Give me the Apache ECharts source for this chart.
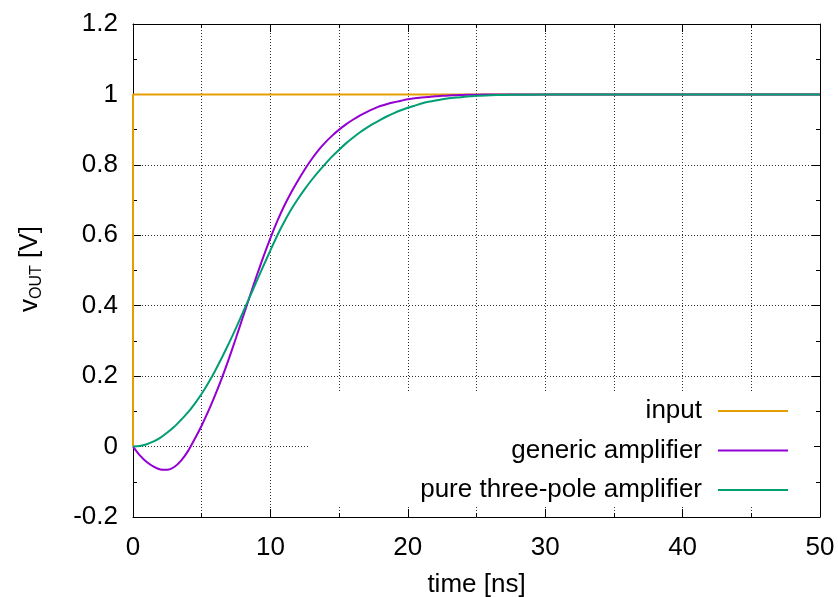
<!DOCTYPE html>
<html>
<head>
<meta charset="utf-8">
<script src="https://cdn.jsdelivr.net/npm/echarts@6/dist/echarts.min.js"></script>
<style>html,body{margin:0;padding:0;background:#fff}#c{width:838px;height:597px}</style>
</head>
<body>
<div id="c"></div>
<script>
// time samples [ns]
var tSamples = [0,0.5,1,1.5,2,2.5,3,3.5,4,4.5,5,5.5,6,6.5,7,7.5,8,8.5,9,9.5,10,10.5,11,11.5,12,12.5,13,13.5,14,14.5,15,15.5,16,16.5,17,17.5,18,18.5,19,19.5,20,20.5,21,21.5,22,22.5,23,23.5,24,24.5,25,26,27,28,30,35,40,50];
// generic amplifier output [V]
var vGeneric = [0,-0.025,-0.044,-0.057,-0.065,-0.066,-0.058,-0.040,-0.013,0.022,0.060,0.102,0.148,0.198,0.252,0.309,0.368,0.427,0.485,0.54,0.592,0.64,0.683,0.721,0.755,0.787,0.816,0.842,0.864,0.883,0.90,0.915,0.928,0.94,0.95,0.959,0.967,0.973,0.978,0.982,0.986,0.989,0.991,0.993,0.995,0.996,0.997,0.9978,0.9985,0.999,0.9993,0.9996,0.9998,1.0,1.0,1.0,1.0,1.0];
// pure three-pole amplifier output [V]
var vThreePole = [0,0.0016,0.0065,0.0145,0.0255,0.0398,0.056,0.076,0.097,0.122,0.15,0.182,0.217,0.255,0.295,0.337,0.381,0.425,0.4698,0.5138,0.5573,0.5995,0.6375,0.6723,0.703,0.731,0.757,0.781,0.803,0.824,0.843,0.861,0.877,0.892,0.905,0.917,0.928,0.938,0.947,0.955,0.962,0.968,0.974,0.979,0.983,0.986,0.989,0.991,0.993,0.9945,0.996,0.9975,0.9985,0.999,0.9995,1.0,1.0,1.0];
// input step
var tInput = [0,0,50];
var vInput = [0,1,1];
var seriesNames = ['input','generic amplifier','pure three-pole amplifier'];
var xTicks = {min:0,max:50,interval:10};
var yTicks = {min:-0.2,max:1.2,interval:0.2};

function pairs(t,v){var o=[];for(var i=0;i<t.length;i++)o.push([t[i],v[i]]);return o;}

var FONT = 'Liberation Sans';
var FS = 26;
var chart = echarts.init(document.getElementById('c'), null, {renderer:'canvas'});
var grid = {left:133,right:18,top:24,bottom:80,containLabel:false,outerBoundsMode:'none'};
var dotted = {show:true,lineStyle:{color:'#333',width:1,type:[1,2]}};
function xAxis(pos, main){
  return {type:'value',position:pos,min:xTicks.min,max:xTicks.max,interval:xTicks.interval,
    axisLine:{show:true,onZero:false,lineStyle:{color:'#000',width:1}},
    axisTick:{show:true,inside:true,length:8,lineStyle:{color:'#000'}},
    minorTick:{show:true,splitNumber:2,length:4,lineStyle:{color:'#000'}},
    axisLabel:{show:main,margin:18,color:'#000',fontFamily:FONT,fontSize:FS},
    splitLine:main?dotted:{show:false},
    minorSplitLine:main?dotted:{show:false},
    name:main?'time [ns]':'',nameLocation:'middle',nameGap:55,
    nameTextStyle:{color:'#000',fontFamily:FONT,fontSize:FS}};
}
function yAxis(pos, main){
  return {type:'value',position:pos,min:yTicks.min,max:yTicks.max,interval:yTicks.interval,
    axisLine:{show:true,onZero:false,lineStyle:{color:'#000',width:1}},
    axisTick:{show:true,inside:true,length:8,lineStyle:{color:'#000'}},
    minorTick:{show:true,splitNumber:2,length:4,lineStyle:{color:'#000'}},
    axisLabel:{show:main,margin:15,color:'#000',fontFamily:FONT,fontSize:FS,
      formatter:function(v){return String(Math.round(v*10)/10);}},
    splitLine:main?dotted:{show:false},
    minorSplitLine:{show:false}};
}
var colors = ['#e69f00','#9400d3','#009e73'];
var datas = [pairs(tInput,vInput), pairs(tSamples,vGeneric), pairs(tSamples,vThreePole)];
var series = seriesNames.map(function(n,i){
  return {name:n,type:'line',data:datas[i],xAxisIndex:0,yAxisIndex:0,
    symbol:'none',showSymbol:false,smooth:i===0?false:0.25,
    lineStyle:{color:colors[i],width:2},itemStyle:{color:colors[i]},
    z:2+i,animation:false,clip:true};
});
chart.setOption({
  animation:false,
  backgroundColor:'#fff',
  grid:grid,
  xAxis:[xAxis('bottom',true), xAxis('top',false)],
  yAxis:[yAxis('left',true), yAxis('right',false)],
  legend:{show:true,orient:'vertical',align:'right',right:24,top:391,
    icon:'rect',itemWidth:70,itemHeight:2,itemGap:13.5,selectedMode:false,
    backgroundColor:'#fff',padding:[7,26,4,112],
    textStyle:{color:'#000',fontFamily:FONT,fontSize:FS,padding:[0,11,0,0]},
    data:seriesNames},
  graphic:[{type:'text',x:30,y:269,rotation:Math.PI/2,
    style:{text:'{v|v}{s|OUT}{v| [V]}',align:'center',verticalAlign:'middle',fill:'#000',
      rich:{v:{fontFamily:FONT,fontSize:FS,lineHeight:30,fill:'#000'},
            s:{fontFamily:FONT,fontSize:16,lineHeight:16,verticalAlign:'bottom',fill:'#000'}}}}],
  series:series
});
</script>
</body>
</html>
